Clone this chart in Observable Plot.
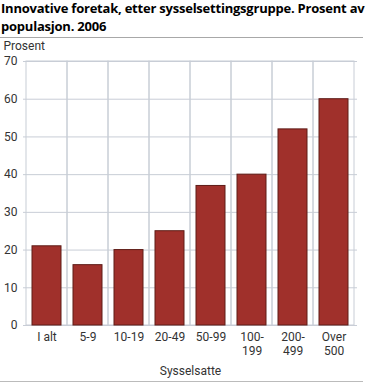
<!DOCTYPE html>
<html><head><meta charset="utf-8">
<script src="https://cdn.jsdelivr.net/npm/d3@7"></script>
<script src="https://cdn.jsdelivr.net/npm/@observablehq/plot@0.6"></script>
<style>
body{margin:0;background:#fff;font-family:"Open Sans",sans-serif;}
#wrap{width:373px;position:relative}
#title{font-weight:bold;font-size:13px;line-height:17.8px;color:#000;padding:0 0 0 1px;height:37px;box-sizing:border-box;letter-spacing:-0.22px;width:373px;white-space:nowrap}
.rule{width:363px;height:0;border-top:1px solid #a8a8a8}
#chart{height:343px;overflow:hidden}
</style></head>
<body><div id="wrap"><div id="title">Innovative foretak, etter sysselsettingsgruppe. Prosent av<br>populasjon. 2006</div><div class="rule"></div><div id="chart"></div><div class="rule" style="border-color:#bbb"></div></div>
<script>
const categories = ["I alt","5-9","10-19","20-49","50-99","100-\n199","200-\n499","Over\n500"];
const values = [21,16,20,25,37,40,52,60];
const yTicks = [0,10,20,30,40,50,60,70];
const data = categories.map((c,i)=>({cat:c, v:values[i]}));
const line1 = d => d.split("\n")[0];
const line2 = d => d.split("\n")[1] || "";
const plot = Plot.plot({
  width:373, height:343,
  marginTop:23, marginBottom:56, marginLeft:23, marginRight:16,
  style:{fontFamily:"Roboto, sans-serif", fontSize:"12px", color:"#333"},
  x:{domain:categories, padding:0, label:null},
  y:{domain:[0,70], ticks:yTicks},
  marks:[
    Plot.gridY(yTicks,{stroke:"#c8cdd6", strokeOpacity:1}),
    Plot.barY(categories,{x:d=>d, y1:0, y2:70, fill:"none", stroke:"#c8cdd6"}),
    Plot.barY(data,{x:"cat", y:"v", fill:"#a0302b", stroke:"#5e1c17", strokeWidth:1, insetLeft:6, insetRight:6}),
    Plot.axisY({ticks:yTicks, tickSize:0, tickPadding:6, label:"Prosent", labelAnchor:"top", labelArrow:"none", fill:"#333"}),
    Plot.axisX({tickSize:0, tickPadding:7, tickFormat:line1, label:"Sysselsatte", labelAnchor:"center", labelArrow:"none", labelOffset:49, fill:"#333"}),
    Plot.axisX(categories.filter(c => c.includes("\n")), {tickSize:0, tickPadding:21.3, tickFormat:line2, label:null, fill:"#333"})
  ]
});
document.getElementById("chart").appendChild(plot);
</script></body></html>
